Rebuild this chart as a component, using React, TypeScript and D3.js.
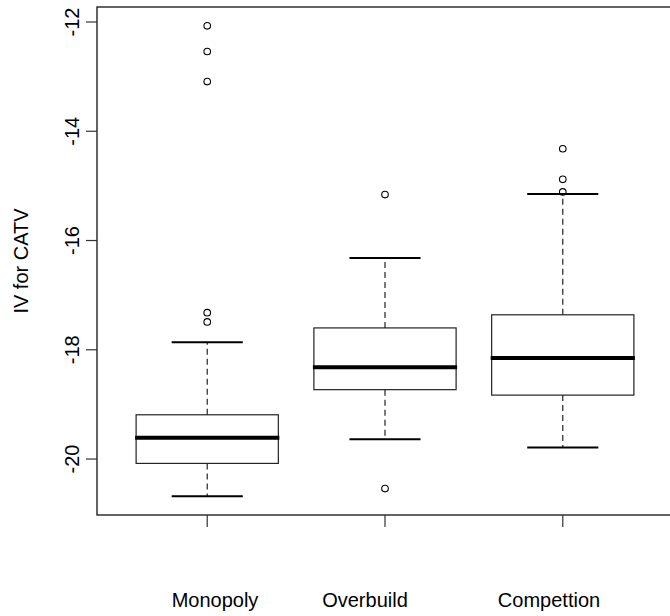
import * as d3 from "d3";
import { useEffect, useRef } from "react";

// five-number summaries (lower whisker, Q1, median, Q3, upper whisker)
const groups = ["Monopoly", "Overbuild", "Compettion"];
const lowWhisker = [-20.68, -19.64, -19.79];
const q1 = [-20.08, -18.73, -18.83];
const median = [-19.61, -18.32, -18.15];
const q3 = [-19.19, -17.6, -17.36];
const highWhisker = [-17.86, -16.32, -15.15];
const outliers = [
    [-12.07, -12.54, -13.09, -17.32, -17.49],
    [-15.16, -20.54],
    [-14.32, -14.88, -15.11],
];
const yTicks = [-20, -18, -16, -14, -12];

const W = 670;
const H = 616;
const plot = { left: 97, top: 7, right: 673, bottom: 515 };
// the category names sit off-centre in the original
const labelX = [215, 365, 549];

const App = () => {
    const chartRef = useRef(null);

    useEffect(() => {
        const svg = d3.select(chartRef.current);
        svg.selectAll("*").remove();

        const allValues = [...lowWhisker, ...highWhisker, ...outliers.flat()];
        const [min, max] = d3.extent(allValues);
        const pad = (max - min) * 0.04;

        const x = d3.scaleLinear()
            .domain([0.5 - 0.12, groups.length + 0.5 + 0.12])
            .range([plot.left, plot.right]);
        const y = d3.scaleLinear()
            .domain([min - pad, max + pad])
            .range([plot.bottom, plot.top]);

        const font = "'Liberation Sans', Arial, sans-serif";
        const boxW = x(1.4) - x(1);   // half of 0.8
        const capW = x(1.2) - x(1);   // half of 0.4

        groups.forEach((g, i) => {
            const cx = x(i + 1);
            const grp = svg.append("g");

            // whiskers
            grp.append("line")
                .attr("x1", cx).attr("x2", cx)
                .attr("y1", y(q3[i])).attr("y2", y(highWhisker[i]))
                .attr("stroke", "#222").attr("stroke-width", 1.2)
                .attr("stroke-dasharray", "6,4");
            grp.append("line")
                .attr("x1", cx).attr("x2", cx)
                .attr("y1", y(q1[i])).attr("y2", y(lowWhisker[i]))
                .attr("stroke", "#222").attr("stroke-width", 1.2)
                .attr("stroke-dasharray", "6,4");

            // staples
            [lowWhisker[i], highWhisker[i]].forEach(v => {
                grp.append("line")
                    .attr("x1", cx - capW).attr("x2", cx + capW)
                    .attr("y1", y(v)).attr("y2", y(v))
                    .attr("stroke", "#000").attr("stroke-width", 2);
            });

            // box
            grp.append("rect")
                .attr("x", cx - boxW)
                .attr("y", y(q3[i]))
                .attr("width", boxW * 2)
                .attr("height", y(q1[i]) - y(q3[i]))
                .attr("fill", "none")
                .attr("stroke", "#222").attr("stroke-width", 1.2);

            // median
            grp.append("line")
                .attr("x1", cx - boxW - 1).attr("x2", cx + boxW + 1)
                .attr("y1", y(median[i])).attr("y2", y(median[i]))
                .attr("stroke", "#000").attr("stroke-width", 4);

            // outliers
            grp.selectAll("circle")
                .data(outliers[i])
                .enter()
                .append("circle")
                .attr("cx", cx)
                .attr("cy", d => y(d))
                .attr("r", 3.3)
                .attr("fill", "none")
                .attr("stroke", "#000").attr("stroke-width", 1.1);
        });

        // frame
        svg.append("rect")
            .attr("x", plot.left).attr("y", plot.top)
            .attr("width", plot.right - plot.left)
            .attr("height", plot.bottom - plot.top)
            .attr("fill", "none")
            .attr("stroke", "#222").attr("stroke-width", 1.4);

        // y axis ticks + rotated labels
        yTicks.forEach(t => {
            svg.append("line")
                .attr("x1", plot.left - 11).attr("x2", plot.left)
                .attr("y1", y(t)).attr("y2", y(t))
                .attr("stroke", "#333").attr("stroke-width", 1.2);
            svg.append("text")
                .attr("transform", `translate(79, ${y(t)}) rotate(-90)`)
                .attr("text-anchor", "middle")
                .style("font-family", font)
                .style("font-size", "20px")
                .text(t);
        });

        // x ticks
        groups.forEach((g, i) => {
            svg.append("line")
                .attr("x1", x(i + 1)).attr("x2", x(i + 1))
                .attr("y1", plot.bottom).attr("y2", plot.bottom + 12)
                .attr("stroke", "#333").attr("stroke-width", 1.2);
            svg.append("text")
                .attr("x", labelX[i])
                .attr("y", 607)
                .attr("text-anchor", "middle")
                .style("font-family", font)
                .style("font-size", "20px")
                .text(g);
        });

        svg.append("text")
            .attr("transform", `translate(28, ${(plot.top + plot.bottom) / 2}) rotate(-90)`)
            .attr("text-anchor", "middle")
            .style("font-family", font)
            .style("font-size", "20px")
            .text("IV for CATV");
    }, []);

    return (
        <svg ref={chartRef} width={W} height={H}
            style={{ position: "absolute", left: 0, top: 0, background: "#fff" }}></svg>
    );
};

export default App;
